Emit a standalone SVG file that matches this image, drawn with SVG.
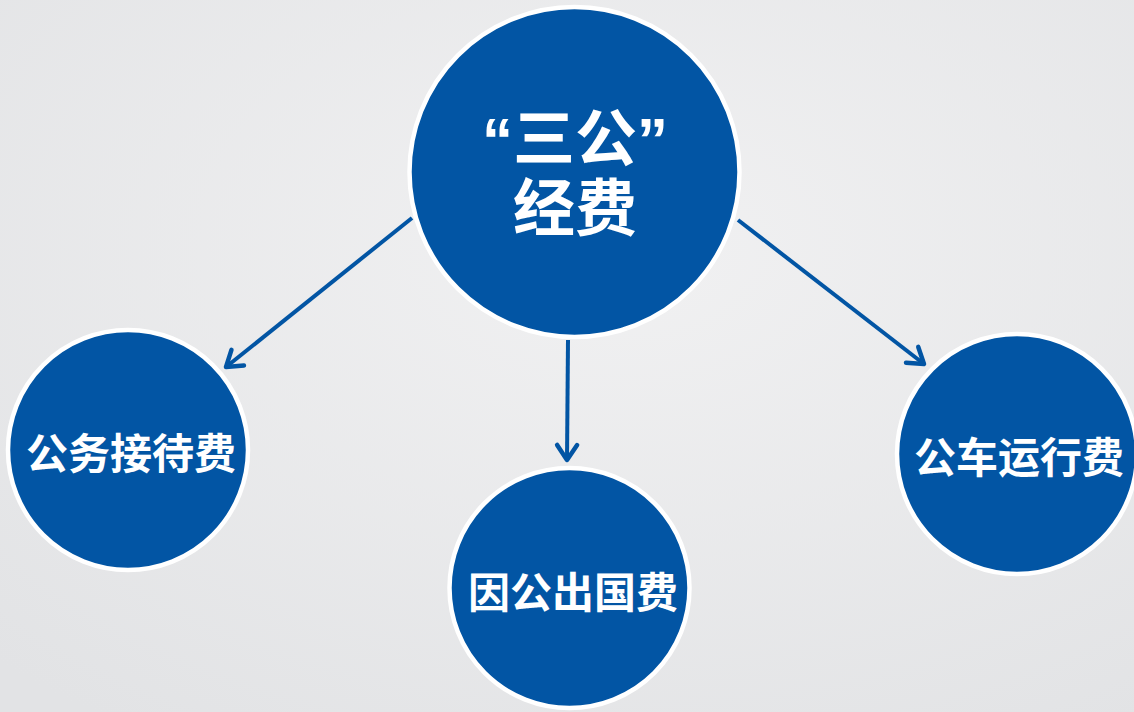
<svg xmlns="http://www.w3.org/2000/svg" width="1134" height="712" viewBox="0 0 1134 712">
<defs>
<radialGradient id="bg" cx="0.55" cy="0.35" r="0.8">
<stop offset="0" stop-color="#f1f1f2"/>
<stop offset="1" stop-color="#e2e3e5"/>
</radialGradient>
<marker id="arr" markerUnits="userSpaceOnUse" markerWidth="30" markerHeight="30" viewBox="-20 -15 30 30" refX="0" refY="0" orient="auto">
<path d="M-15,-10 L0,0 L-15,10" fill="none" stroke="#0255a4" stroke-width="4.5" stroke-linecap="round" stroke-linejoin="round"/>
</marker>
<style>
.node{fill:#0255a4;stroke:#ffffff;stroke-width:4.5}
.t{font-family:"Liberation Sans","Noto Sans CJK SC",sans-serif;font-weight:bold;fill:#ffffff;text-anchor:middle}
.conn{stroke:#0255a4;stroke-width:4;fill:none;marker-end:url(#arr)}
</style>
</defs>
<rect width="1134" height="712" fill="url(#bg)"/>
<g id="connectors">
<line class="conn" x1="412" y1="218" x2="226" y2="367"/>
<line class="conn" x1="568" y1="340" x2="567" y2="460"/>
<line class="conn" x1="738" y1="220" x2="924" y2="364"/>
</g>
<g id="center">
<circle class="node" cx="574.5" cy="172" r="165"/>
<text class="t" x="575" y="161" font-size="62">“三公”</text>
<text class="t" x="575" y="231" font-size="62">经费</text>
</g>
<g id="left">
<circle class="node" cx="128" cy="450" r="120"/>
<text class="t" x="131" y="469" font-size="42">公务接待费</text>
</g>
<g id="bottom">
<circle class="node" cx="569.5" cy="588" r="120"/>
<text class="t" x="573" y="608" font-size="42">因公出国费</text>
</g>
<g id="right">
<circle class="node" cx="1017" cy="454" r="120"/>
<text class="t" x="1019" y="473" font-size="42">公车运行费</text>
</g>
</svg>
